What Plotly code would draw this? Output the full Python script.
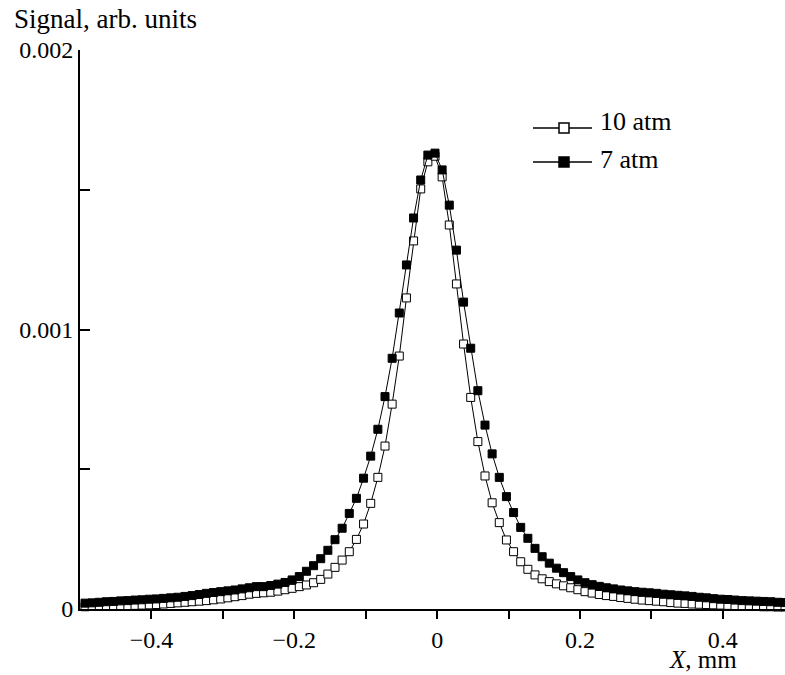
import plotly.graph_objects as go

# x positions of the measured points, mm
x_mm = [-0.493, -0.483, -0.473, -0.463, -0.453, -0.443, -0.433, -0.423, -0.413, -0.403,
        -0.393, -0.383, -0.373, -0.363, -0.353, -0.343, -0.333, -0.323, -0.313, -0.303,
        -0.293, -0.283, -0.273, -0.263, -0.253, -0.243, -0.233, -0.223, -0.213, -0.203,
        -0.193, -0.183, -0.173, -0.163, -0.153, -0.143, -0.133, -0.123, -0.113, -0.103,
        -0.093, -0.083, -0.073, -0.063, -0.053, -0.043, -0.033, -0.023, -0.013, -0.003,
        0.007, 0.017, 0.027, 0.037, 0.047, 0.057, 0.067, 0.077, 0.087, 0.097,
        0.107, 0.117, 0.127, 0.137, 0.147, 0.157, 0.167, 0.177, 0.187, 0.197,
        0.207, 0.217, 0.227, 0.237, 0.247, 0.257, 0.267, 0.277, 0.287, 0.297,
        0.307, 0.317, 0.327, 0.337, 0.347, 0.357, 0.367, 0.377, 0.387, 0.397,
        0.407, 0.417, 0.427, 0.437, 0.447, 0.457, 0.467, 0.477, 0.487]

signal_10atm = [0.000008, 0.000009, 0.000009, 0.000010, 0.000011, 0.000012, 0.000012, 0.000013, 0.000014, 0.000015,
                0.000016, 0.000018, 0.000020, 0.000022, 0.000024, 0.000026, 0.000028, 0.000030, 0.000033, 0.000036,
                0.000040, 0.000044, 0.000048, 0.000053, 0.000056, 0.000058, 0.000060, 0.000064, 0.000069, 0.000074,
                0.000080, 0.000086, 0.000094, 0.000106, 0.000125, 0.000149, 0.000175, 0.000205, 0.000249, 0.000304,
                0.000378, 0.000471, 0.000583, 0.000733, 0.000905, 0.001113, 0.001317, 0.001503, 0.001600, 0.001620,
                0.001546, 0.001374, 0.001163, 0.000948, 0.000757, 0.000599, 0.000476, 0.000380, 0.000309, 0.000247,
                0.000205, 0.000169, 0.000142, 0.000122, 0.000108, 0.000098, 0.000090, 0.000083, 0.000076, 0.000069,
                0.000062, 0.000057, 0.000052, 0.000048, 0.000045, 0.000041, 0.000038, 0.000035, 0.000032, 0.000030,
                0.000028, 0.000026, 0.000023, 0.000021, 0.000020, 0.000018, 0.000017, 0.000016, 0.000015, 0.000014,
                0.000013, 0.000012, 0.000011, 0.000010, 0.000009, 0.000008, 0.000008, 0.000007, 0.000007]

signal_7atm = [0.000021, 0.000022, 0.000024, 0.000026, 0.000027, 0.000029, 0.000030, 0.000032, 0.000033, 0.000035,
               0.000036, 0.000038, 0.000040, 0.000042, 0.000045, 0.000048, 0.000052, 0.000056, 0.000059, 0.000062,
               0.000065, 0.000068, 0.000072, 0.000076, 0.000080, 0.000080, 0.000084, 0.000089, 0.000095, 0.000104,
               0.000116, 0.000135, 0.000155, 0.000180, 0.000210, 0.000248, 0.000289, 0.000342, 0.000396, 0.000468,
               0.000547, 0.000643, 0.000760, 0.000897, 0.001059, 0.001231, 0.001399, 0.001535, 0.001624, 0.001631,
               0.001571, 0.001445, 0.001284, 0.001098, 0.000933, 0.000781, 0.000658, 0.000555, 0.000471, 0.000402,
               0.000345, 0.000292, 0.000253, 0.000217, 0.000187, 0.000164, 0.000146, 0.000130, 0.000116, 0.000104,
               0.000094, 0.000087, 0.000081, 0.000076, 0.000072, 0.000068, 0.000065, 0.000062, 0.000060, 0.000058,
               0.000056, 0.000053, 0.000051, 0.000049, 0.000047, 0.000045, 0.000042, 0.000040, 0.000037, 0.000035,
               0.000034, 0.000032, 0.000030, 0.000029, 0.000028, 0.000027, 0.000026, 0.000024, 0.000023]

x_tickvals = [-0.4, -0.3, -0.2, -0.1, 0.0, 0.1, 0.2, 0.3, 0.4]
x_ticktext = ["\u22120.4", "", "\u22120.2", "", "0", "", "0.2", "", "0.4"]
y_tickvals = [0, 0.0005, 0.001, 0.0015, 0.002]
y_ticktext = ["0", "", "0.001", "", "0.002"]

series_names = ["10 atm", "7 atm"]

FONT = "Liberation Serif, Times New Roman, serif"
FS_TICK = 24
FS_LEG = 26
FS_TITLE = 27

fig = go.Figure()
fig.add_trace(go.Scatter(
    x=x_mm, y=signal_10atm, mode="lines+markers", name=series_names[0],
    line=dict(color="black", width=1),
    marker=dict(symbol="square", size=8, color="white", line=dict(color="black", width=1)),
    cliponaxis=False, showlegend=False))
fig.add_trace(go.Scatter(
    x=x_mm, y=signal_7atm, mode="lines+markers", name=series_names[1],
    line=dict(color="black", width=1),
    marker=dict(symbol="square", size=8, color="black", line=dict(color="black", width=1)),
    cliponaxis=False, showlegend=False))

W, H = 785, 675
L, R, T, B = 80, 0, 50, 66
pw, ph = W - L - R, H - T - B

def px2paper(px, py):
    return (px - L) / pw, (H - B - py) / ph

shapes = []
annotations = []
# legend drawn manually to reproduce the long sample lines
legend_rows = [(128, 122, "white", series_names[0]), (162, 160, "black", series_names[1])]
for py, ty_px, fill, label in legend_rows:
    x0, y0 = px2paper(533, py)
    x1, _ = px2paper(592, py)
    xm, _ = px2paper(564, py)
    shapes.append(dict(type="line", xref="paper", yref="paper", x0=x0, x1=x1, y0=y0, y1=y0,
                       line=dict(color="black", width=1.5)))
    shapes.append(dict(type="rect", xref="paper", yref="paper", xsizemode="pixel", ysizemode="pixel",
                       xanchor=xm, yanchor=y0, x0=-5, x1=5, y0=-5, y1=5,
                       fillcolor=fill, line=dict(color="black", width=1.5)))
    tx, ty = px2paper(598, ty_px)
    annotations.append(dict(text=label, xref="paper", yref="paper", x=tx, y=ty,
                            xanchor="left", yanchor="middle", showarrow=False,
                            font=dict(family=FONT, size=FS_LEG, color="black")))

# axis titles
tx, ty = px2paper(12, 19)
annotations.append(dict(text="Signal, arb. units", xref="paper", yref="paper", x=tx, y=ty,
                        xanchor="left", yanchor="middle", showarrow=False,
                        font=dict(family=FONT, size=FS_TITLE, color="black")))
tx, ty = px2paper(738, 659)
annotations.append(dict(text="<i>X</i>, mm", xref="paper", yref="paper", x=tx, y=ty,
                        xanchor="right", yanchor="middle", showarrow=False, borderpad=0,
                        font=dict(family=FONT, size=25, color="black")))

fig.update_layout(
    width=W, height=H,
    margin=dict(l=L, r=R, t=T, b=B, pad=0),
    paper_bgcolor="white", plot_bgcolor="white",
    font=dict(family=FONT, size=FS_TICK, color="black"),
    shapes=shapes, annotations=annotations,
    showlegend=False,
    xaxis=dict(range=[-0.5, 0.487], showgrid=False, zeroline=False,
               showline=True, linecolor="black", linewidth=2,
               ticks="outside", ticklen=8, tickwidth=2, tickcolor="black",
               tickvals=x_tickvals, ticktext=x_ticktext,
               tickfont=dict(family=FONT, size=FS_TICK, color="black")),
    yaxis=dict(range=[0, 0.002], showgrid=False, zeroline=False,
               showline=True, linecolor="black", linewidth=2,
               ticks="inside", ticklen=10, tickwidth=2, tickcolor="black",
               tickvals=y_tickvals, ticktext=y_ticktext,
               tickfont=dict(family=FONT, size=FS_TICK, color="black")),
)

fig.write_html("out.html", config={"displayModeBar": False},
               post_script="document.body.style.margin='0';document.body.style.overflow='hidden';")
